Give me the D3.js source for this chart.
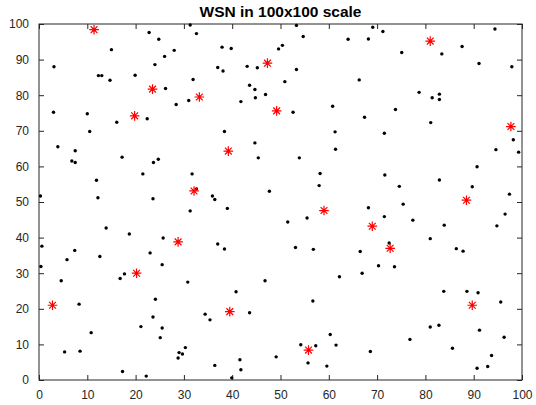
<!DOCTYPE html>
<html>
<head>
<meta charset="UTF-8">
<script src="https://d3js.org/d3.v7.min.js"></script>
<style>
  body { margin: 0; background: #fff; }
  .tick text { font-family: 'Liberation Sans', Arial, sans-serif; font-size: 12px; fill: #262626; }
  .title { font-family: 'Liberation Sans', Arial, sans-serif; font-size: 15.5px; font-weight: bold; fill: #000; }
</style>
</head>
<body>
<svg id="chart"></svg>
<script>
  // sensor nodes (x, y)
  const nodeX = [11.4,22.8,24.8,31.3,32.6,15.0,28.0,26.0,3.1,24.0,12.3,13.0,19.9,14.7,31.9,26.2,28.4,31.0,3.0,10.0,
    22.4,16.1,10.5,3.9,7.5,6.8,7.5,17.2,24.7,23.7,21.5,31.7,11.9,32.6,0.3,12.2,23.6,
    53.3,54.7,64.0,37.9,39.8,49.6,50.4,37.0,38.1,43.1,45.2,53.3,66.3,50.9,43.6,44.7,46.9,44.8,41.8,52.6,60.8,67.4,
    38.4,61.3,44.7,61.4,45.4,53.9,58.2,58.0,47.7,35.9,36.4,
    69.1,71.2,68.2,94.4,87.6,75.1,83.4,91.1,97.9,78.7,81.4,82.9,82.9,73.8,81.1,71.5,98.2,94.6,99.3,90.7,71.6,82.9,
    74.6,89.7,97.4,
    31.3,13.9,18.7,25.7,0.6,7.4,5.8,12.6,23.0,25.5,0.4,16.8,17.7,4.6,30.8,8.3,24.1,23.6,21.1,25.5,10.8,25.1,5.3,8.5,
    30.3,29.0,29.7,28.8,17.3,22.2,
    39.0,51.5,55.5,37.0,38.4,53.1,56.8,66.5,62.2,66.9,46.8,40.8,56.7,34.4,35.4,43.6,60.3,54.2,57.3,61.5,49.1,41.6,
    36.4,41.8,55.7,59.6,39.9,
    68.2,75.4,71.5,77.4,96.5,83.9,94.8,81.0,72.5,86.4,87.8,70.3,73.6,83.8,88.6,90.9,95.6,81.0,82.8,91.2,76.8,96.3,
    68.6,85.6,93.7,92.9,90.7];
  const nodeY = [98.4,97.6,95.7,99.7,97.3,92.8,92.6,90.9,88.0,88.6,85.5,85.5,85.6,84.2,84.4,81.9,77.4,78.5,75.2,74.8,
    73.4,72.4,69.8,65.5,64.4,61.5,61.1,62.6,62.0,61.1,57.9,57.9,56.1,53.7,51.7,51.2,50.9,
    99.6,96.5,95.7,93.5,93.1,93.0,94.0,87.8,86.8,88.1,87.7,87.2,84.3,83.8,82.8,81.6,80.2,79.3,78.2,75.2,76.9,73.8,
    69.8,69.7,66.6,64.8,62.4,62.4,58.0,54.6,53.0,51.7,50.7,
    99.1,97.9,95.8,98.6,93.7,92.0,91.6,88.9,88.0,80.8,79.3,80.3,78.8,76.0,72.3,69.3,67.5,64.7,64.0,59.9,57.6,56.2,
    54.4,54.3,52.2,
    47.5,42.7,41.0,39.9,37.6,36.4,33.8,34.7,35.7,32.4,31.9,28.5,29.8,27.9,27.5,21.3,22.7,17.7,15.0,14.6,13.3,11.9,
    7.9,8.1,9.1,7.7,7.3,6.2,2.4,1.1,
    48.2,44.4,45.5,38.2,36.8,37.2,36.7,36.1,29.0,30.0,27.9,24.8,22.2,18.5,16.9,18.9,12.8,9.9,9.6,9.8,6.5,5.7,4.1,
    2.9,4.8,3.9,0.6,
    48.4,49.4,45.9,44.9,46.6,43.5,43.3,39.7,38.5,36.9,36.2,32.1,31.8,24.9,24.9,24.5,21.9,14.9,15.4,14.0,11.4,12.0,
    8.0,8.9,6.9,3.8,3.3];

  // cluster heads (x, y)
  const headX = [11.4,23.5,33.2,19.8,47.3,49.2,39.2,32.1,81.0,97.7,88.5,69.0,72.7,59.0,28.8,20.2,2.8,39.5,55.8,89.7];
  const headY = [98.4,81.7,79.5,74.2,89.0,75.6,64.3,53.1,95.2,71.2,50.5,43.2,37.0,47.6,38.8,30.0,21.0,19.2,8.4,21.0];

  const xTicks = d3.range(0, 101, 10);
  const yTicks = d3.range(0, 101, 10);

  const W = 536, H = 405;
  const margin = { top: 24, right: 14, bottom: 25, left: 39 };
  const iw = 483, ih = 356;

  const svg = d3.select('#chart').attr('width', W).attr('height', H);
  const g = svg.append('g').attr('transform', `translate(${margin.left},${margin.top})`);

  const x = d3.scaleLinear().domain([0, 100]).range([0, iw]);
  const y = d3.scaleLinear().domain([0, 100]).range([ih, 0]);

  const axisColor = '#262626';

  // axes, ticks pointing inward like matlab
  const styleAxis = sel => {
    sel.select('.domain').remove();
    sel.selectAll('.tick line').attr('stroke', axisColor);
  };
  g.append('g').attr('transform', `translate(0,${ih})`)
    .call(d3.axisBottom(x).tickValues(xTicks).tickSizeInner(-5).tickSizeOuter(0).tickPadding(10))
    .call(styleAxis);
  g.append('g')
    .call(d3.axisLeft(y).tickValues(yTicks).tickSizeInner(-5).tickSizeOuter(0).tickPadding(10))
    .call(styleAxis);
  g.append('g')
    .call(d3.axisTop(x).tickValues(xTicks).tickSizeInner(-5).tickSizeOuter(0).tickFormat(''))
    .call(styleAxis);
  g.append('g').attr('transform', `translate(${iw},0)`)
    .call(d3.axisRight(y).tickValues(yTicks).tickSizeInner(-5).tickSizeOuter(0).tickFormat(''))
    .call(styleAxis);

  g.append('rect')
    .attr('width', iw).attr('height', ih)
    .attr('fill', 'none').attr('stroke', axisColor).attr('stroke-width', 1);

  // normal nodes
  const nodes = nodeX.map((v, i) => ({ x: v, y: nodeY[i] }));
  g.append('g').selectAll('circle')
    .data(nodes)
    .join('circle')
    .attr('cx', d => x(d.x))
    .attr('cy', d => y(d.y))
    .attr('r', 1.7)
    .attr('fill', '#000');

  // cluster heads as asterisks
  const heads = headX.map((v, i) => ({ x: v, y: headY[i] }));
  const s = 4.8, sd = 3.4;
  const star = `M${-s},0L${s},0M0,${-s}L0,${s}M${-sd},${-sd}L${sd},${sd}M${-sd},${sd}L${sd},${-sd}`;
  g.append('g').selectAll('path')
    .data(heads)
    .join('path')
    .attr('transform', d => `translate(${x(d.x)},${y(d.y)})`)
    .attr('d', star)
    .attr('stroke', '#ff0000')
    .attr('stroke-width', 1.2)
    .attr('fill', 'none');

  svg.append('text')
    .attr('class', 'title')
    .attr('x', margin.left + iw / 2)
    .attr('y', 17)
    .attr('text-anchor', 'middle')
    .text('WSN in 100x100 scale');
</script>
</body>
</html>
